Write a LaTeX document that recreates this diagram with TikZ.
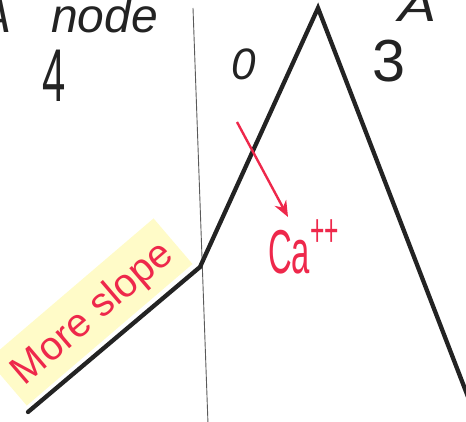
\documentclass[tikz,border=0pt]{standalone}
\usepackage{fontspec}
\setmainfont{Liberation Sans}
\usetikzlibrary{arrows.meta}
\definecolor{inkred}{RGB}{238,40,75}
\definecolor{inkblack}{RGB}{35,35,35}
\definecolor{hilite}{RGB}{255,251,200}
\tikzset{
  pen/.style={draw=inkblack, line width=4.3pt, line join=miter, line cap=round},
  thinpen/.style={draw=inkblack!75, line width=0.9pt},
  redpen/.style={draw=inkred, line width=2.4pt, -{Stealth[length=16pt,width=13pt]}},
  hand/.style={font=\fontsize{44}{44}\selectfont, text=inkblack, inner sep=0pt},
  redhand/.style={font=\fontsize{40}{40}\selectfont, text=inkred, inner sep=0pt},
}
\begin{document}
\begin{tikzpicture}[x=1pt,y=-1pt]
\useasboundingbox (0,0) rectangle (466,422);
\clip (0,0) rectangle (466,422);
% highlight band
\fill[hilite, rotate around={40.5:(100,322)}] (-10,338) rectangle (208,278);
% divider
\coordinate (vtop) at (193,8);
\coordinate (vbot) at (208,424);
\draw[thinpen] (vtop) -- (vbot);
% polyline
\coordinate (p0) at (28,412);
\coordinate (p1) at (200,267);
\coordinate (p2) at (318,8);
\coordinate (p3) at (470,402);
\draw[pen] (p0) -- (p1) -- (p2) -- (p3);
% labels
\node[hand, anchor=base east, font=\fontsize{48}{48}\selectfont\itshape] (anode) at (158,33) {A\hspace{40pt}node};
\node[hand, anchor=base, yscale=1.7, xscale=0.95] (four) at (54,102) {4};
\node[hand, anchor=base, font=\fontsize{44}{44}\selectfont\itshape] (zero) at (244,80) {0};
\node[hand, anchor=base, xscale=1.35, yscale=1.35] (three) at (389,82) {3};
\node[hand, anchor=base, xscale=1.3, font=\fontsize{44}{44}\selectfont\itshape] (atr) at (418,22) {A};
% red arrow and Ca++
\coordinate (rs) at (237,122);
\coordinate (re) at (288,217);
\draw[redpen] (rs) -- (re);
\node[redhand, anchor=base west, xscale=0.82, yscale=1.55] (ca) at (268,273) {Ca\raisebox{17pt}{\fontsize{30}{30}\selectfont ++}};
\node[redhand, rotate=40.5, anchor=base] (slope) at (100,322) {More slope};
\end{tikzpicture}
\end{document}
